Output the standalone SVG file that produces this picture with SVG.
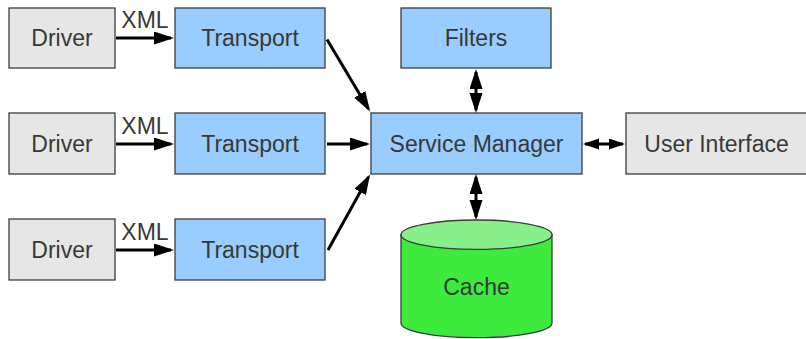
<svg xmlns="http://www.w3.org/2000/svg" width="806" height="339" viewBox="0 0 806 339">
<defs>
<style>
.gray{fill:#e6e6e6;stroke:#3c3c3c;stroke-width:1.3}
.blue{fill:#99ccff;stroke:#3c3c3c;stroke-width:1.3}
.t{font-family:"Liberation Sans",Arial,sans-serif;font-size:23px;fill:#383838;text-anchor:middle}
.c{stroke:#000;stroke-width:3;fill:none}
</style>
<marker id="ah" markerUnits="userSpaceOnUse" markerWidth="20" markerHeight="14" refX="17" refY="6.5" orient="auto-start-reverse">
<path d="M0,0 L20,6.5 L0,13 Z" fill="#000"/>
</marker>
<marker id="ahs" markerUnits="userSpaceOnUse" markerWidth="18" markerHeight="12" refX="14" refY="5.5" orient="auto-start-reverse">
<path d="M0,0 L16,5.5 L0,11 Z" fill="#000"/>
</marker>
</defs>
<rect width="806" height="339" fill="#fff"/>
<g id="driver1"><rect class="gray" x="9" y="8" width="106" height="60"/><text class="t" x="62" y="46">Driver</text></g>
<g id="driver2"><rect class="gray" x="9" y="113" width="106" height="61"/><text class="t" x="62" y="151.5">Driver</text></g>
<g id="driver3"><rect class="gray" x="9" y="219" width="106" height="61"/><text class="t" x="62" y="257.5">Driver</text></g>
<g id="transport1"><rect class="blue" x="175" y="8" width="150" height="60"/><text class="t" x="250" y="46">Transport</text></g>
<g id="transport2"><rect class="blue" x="175" y="113" width="150" height="61"/><text class="t" x="250" y="151.5">Transport</text></g>
<g id="transport3"><rect class="blue" x="175" y="219" width="150" height="61"/><text class="t" x="250" y="257.5">Transport</text></g>
<g id="filters"><rect class="blue" x="401" y="8" width="150" height="60"/><text class="t" x="476" y="46">Filters</text></g>
<g id="servicemanager"><rect class="blue" x="371" y="113" width="211" height="61"/><text class="t" x="476.5" y="151.5">Service Manager</text></g>
<g id="userinterface"><rect class="gray" x="626" y="113" width="184" height="61"/><text class="t" x="716.5" y="151.5">User Interface</text></g>
<g id="cache">
<path d="M401,234.7 L401,323 A75.5,14.7 0 0 0 552,323 L552,234.7 Z" fill="#3deb3d" stroke="#3c3c3c" stroke-width="1.3"/>
<ellipse cx="476.5" cy="234.7" rx="75.5" ry="14.7" fill="#88f088" stroke="#3c3c3c" stroke-width="1.3"/>
<text class="t" x="476.5" y="295">Cache</text>
</g>
<g id="connectors">
<line class="c" x1="116" y1="38" x2="171" y2="38" marker-end="url(#ah)"/>
<line class="c" x1="116" y1="144" x2="171" y2="144" marker-end="url(#ah)"/>
<line class="c" x1="116" y1="250" x2="171" y2="250" marker-end="url(#ah)"/>
<text class="t" x="145" y="28">XML</text>
<text class="t" x="145" y="134">XML</text>
<text class="t" x="145" y="240">XML</text>
<line class="c" x1="327" y1="39.5" x2="368.5" y2="109" marker-end="url(#ah)"/>
<line class="c" x1="327" y1="144" x2="367" y2="144" marker-end="url(#ah)"/>
<line class="c" x1="328" y1="250" x2="368.5" y2="177" marker-end="url(#ah)"/>
<line class="c" x1="476" y1="72" x2="476" y2="110" marker-start="url(#ah)" marker-end="url(#ah)"/>
<line class="c" x1="585" y1="144" x2="623" y2="144" marker-start="url(#ahs)" marker-end="url(#ahs)"/>
<line class="c" x1="476" y1="177" x2="476" y2="217" marker-start="url(#ah)" marker-end="url(#ah)"/>
</g>
</svg>
